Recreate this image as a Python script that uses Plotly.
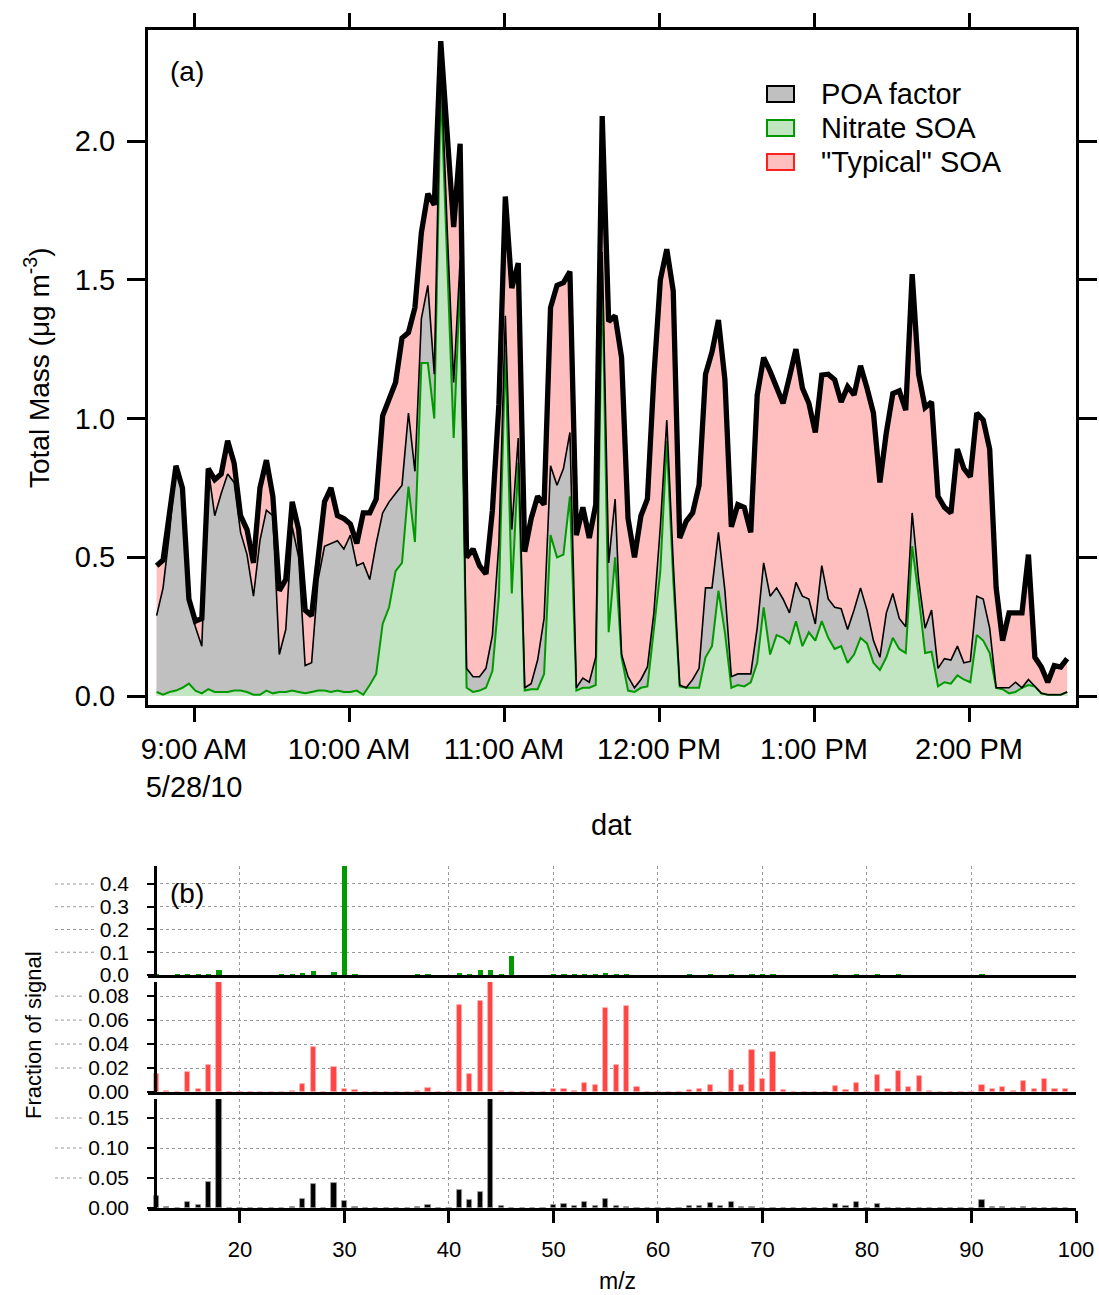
import plotly.graph_objects as go
import pandas as pd

W, H = 1099, 1295
FONT = "Liberation Sans, Arial, Helvetica, sans-serif"

# ---------------- Panel (a) data : time series (2.5-min steps) ----------------
t_start = "2010-05-28 08:45:30"
n_pts = 142
times = pd.date_range(t_start, periods=n_pts, freq="150s")

total_mass = [
    0.47, 0.49, 0.66, 0.83, 0.75, 0.35, 0.27, 0.28, 0.82, 0.78,
    0.80, 0.92, 0.84, 0.65, 0.60, 0.48, 0.75, 0.85, 0.72, 0.38,
    0.42, 0.70, 0.60, 0.31, 0.29, 0.50, 0.70, 0.75, 0.65, 0.64,
    0.62, 0.55, 0.66, 0.66, 0.71, 1.01, 1.07, 1.13, 1.29, 1.31,
    1.40, 1.67, 1.81, 1.77, 2.36, 2.00, 1.69, 1.99, 0.50, 0.53,
    0.47, 0.44, 0.67, 1.05, 1.80, 1.47, 1.56, 0.52, 0.64, 0.72,
    0.69, 1.40, 1.48, 1.49, 1.53, 0.58, 0.68, 0.57, 0.69, 2.09,
    1.35, 1.37, 1.22, 0.64, 0.50, 0.65, 0.71, 1.15, 1.50, 1.61,
    1.46, 0.57, 0.63, 0.66, 0.76, 1.16, 1.24, 1.355, 1.14, 0.61,
    0.69, 0.68, 0.59, 1.085, 1.22, 1.17, 1.11, 1.055, 1.15, 1.25,
    1.11, 1.055, 0.95, 1.157, 1.16, 1.14, 1.06, 1.115, 1.085, 1.19,
    1.11, 1.02, 0.77, 0.95, 1.09, 1.10, 1.03, 1.52, 1.16, 1.04,
    1.06, 0.72, 0.68, 0.66, 0.89, 0.82, 0.79, 1.02, 0.995, 0.89,
    0.39, 0.20, 0.30, 0.30, 0.30, 0.51, 0.14, 0.105, 0.05, 0.11,
    0.105, 0.135,
]

# cumulative: Nitrate SOA + POA factor
nitrate_plus_poa = [
    0.29, 0.39, 0.59, 0.83, 0.75, 0.35, 0.25, 0.18, 0.82, 0.65,
    0.73, 0.80, 0.77, 0.59, 0.51, 0.36, 0.56, 0.67, 0.65, 0.15,
    0.24, 0.61, 0.50, 0.11, 0.12, 0.42, 0.54, 0.55, 0.56, 0.53,
    0.58, 0.47, 0.48, 0.42, 0.55, 0.66, 0.70, 0.73, 0.76, 1.02,
    0.81, 1.36, 1.48, 1.16, 2.30, 1.68, 1.13, 1.57, 0.10, 0.07,
    0.07, 0.10, 0.22, 0.55, 1.37, 0.60, 0.93, 0.03, 0.045, 0.13,
    0.28, 0.83, 0.76, 0.82, 0.95, 0.03, 0.065, 0.05, 0.14, 1.60,
    0.48, 0.71, 0.15, 0.07, 0.03, 0.06, 0.105, 0.30, 0.61, 0.995,
    0.48, 0.04, 0.03, 0.06, 0.10, 0.39, 0.39, 0.59, 0.38, 0.07,
    0.08, 0.08, 0.08, 0.245, 0.48, 0.36, 0.39, 0.35, 0.30, 0.41,
    0.36, 0.35, 0.26, 0.47, 0.35, 0.32, 0.315, 0.24, 0.31, 0.39,
    0.31, 0.20, 0.14, 0.30, 0.37, 0.28, 0.25, 0.66, 0.42, 0.245,
    0.31, 0.10, 0.135, 0.13, 0.18, 0.12, 0.125, 0.36, 0.35, 0.245,
    0.03, 0.03, 0.03, 0.05, 0.03, 0.06, 0.035, 0.01, 0.005, 0.005,
    0.005, 0.015,
]

nitrate_soa = [
    0.015, 0.005, 0.015, 0.02, 0.03, 0.045, 0.02, 0.01, 0.025, 0.015,
    0.015, 0.015, 0.02, 0.02, 0.015, 0.005, 0.005, 0.02, 0.01, 0.015,
    0.015, 0.02, 0.015, 0.01, 0.015, 0.02, 0.02, 0.015, 0.02, 0.015,
    0.015, 0.02, 0.005, 0.04, 0.08, 0.26, 0.32, 0.45, 0.48, 0.755,
    0.555, 1.20, 1.20, 1.00, 2.20, 1.55, 0.93, 1.50, 0.03, 0.015,
    0.02, 0.03, 0.09, 0.36, 1.25, 0.37, 0.84, 0.02, 0.025, 0.025,
    0.08, 0.58, 0.50, 0.51, 0.72, 0.02, 0.03, 0.03, 0.04, 1.53,
    0.23, 0.50, 0.14, 0.02, 0.015, 0.03, 0.035, 0.24, 0.45, 0.92,
    0.42, 0.035, 0.03, 0.03, 0.03, 0.14, 0.18, 0.38, 0.23, 0.03,
    0.04, 0.035, 0.05, 0.12, 0.32, 0.15, 0.22, 0.21, 0.19, 0.27,
    0.18, 0.23, 0.20, 0.27, 0.21, 0.17, 0.18, 0.12, 0.15, 0.21,
    0.19, 0.12, 0.094, 0.14, 0.21, 0.17, 0.155, 0.54, 0.36, 0.155,
    0.16, 0.035, 0.05, 0.045, 0.075, 0.06, 0.05, 0.22, 0.20, 0.155,
    0.03, 0.025, 0.01, 0.015, 0.03, 0.04, 0.035, 0.01, 0.005, 0.005,
    0.005, 0.015,
]

time_tickvals = ["2010-05-28 09:00", "2010-05-28 10:00", "2010-05-28 11:00",
                 "2010-05-28 12:00", "2010-05-28 13:00", "2010-05-28 14:00"]
time_ticktext = ["9:00 AM<br>5/28/10", "10:00 AM", "11:00 AM",
                 "12:00 PM", "1:00 PM", "2:00 PM"]
mass_ticks = [0.0, 0.5, 1.0, 1.5, 2.0]

# ---------------- Panel (b) data : mass spectra ----------------
mz = list(range(12, 100))
nitrate_ms = [
    0.004, 0.0, 0.001, 0.001, 0.001, 0.002, 0.022, 0.0, 0.0, 0.0,   # 12-21
    0.0, 0.0, 0.001, 0.001, 0.005, 0.018, 0.0, 0.012, 0.52, 0.002,  # 22-31
    0.0, 0.0, 0.0, 0.0, 0.0, 0.001, 0.001, 0.0, 0.0, 0.009,         # 32-41
    0.004, 0.02, 0.022, 0.001, 0.085, 0.0, 0.0, 0.0, 0.001, 0.001,  # 42-51
    0.001, 0.003, 0.002, 0.007, 0.002, 0.004, 0.0, 0.0, 0.0, 0.0,   # 52-61
    0.0, 0.001, 0.0, 0.002, 0.0, 0.004, 0.0, 0.003, 0.002, 0.002,   # 62-71
    0.0, 0.0, 0.0, 0.0, 0.0, 0.002, 0.0, 0.002, 0.0, 0.002,         # 72-81
    0.0, 0.001, 0.0, 0.0, 0.0, 0.0, 0.0, 0.0, 0.0, 0.003,           # 82-91
    0.0, 0.0, 0.0, 0.0, 0.0, 0.0, 0.0, 0.0,                         # 92-99
]
typical_ms = [
    0.0147, 0.0006, 0.0003, 0.0164, 0.0028, 0.0225, 0.095, 0.0003, 0.0003, 0.0,
    0.0, 0.0, 0.0004, 0.0005, 0.0067, 0.0372, 0.0, 0.0206, 0.0022, 0.0014,
    0.0003, 0.0, 0.0, 0.0, 0.0, 0.001, 0.0033, 0.0003, 0.0003, 0.0722,
    0.015, 0.0756, 0.095, 0.0006, 0.0003, 0.0003, 0.0003, 0.0003, 0.0022, 0.0028,
    0.001, 0.0078, 0.0056, 0.070, 0.0222, 0.0714, 0.0042, 0.0003, 0.0003, 0.0003,
    0.0003, 0.0014, 0.0022, 0.0058, 0.0003, 0.0186, 0.0056, 0.0347, 0.0106, 0.0333,
    0.0014, 0.0003, 0.0003, 0.0003, 0.0003, 0.0047, 0.002, 0.0078, 0.0003, 0.0144,
    0.0028, 0.0178, 0.0039, 0.0136, 0.0008, 0.0003, 0.0003, 0.0002, 0.0002, 0.0058,
    0.0025, 0.0042, 0.001, 0.0094, 0.0022, 0.0106, 0.0025, 0.0022,
]
poa_ms = [
    0.0206, 0.0022, 0.0, 0.0094, 0.0044, 0.0428, 0.19, 0.0, 0.0, 0.0,
    0.0, 0.0, 0.0, 0.0017, 0.0156, 0.0406, 0.0, 0.0417, 0.0122, 0.0022,
    0.0, 0.0, 0.0, 0.0, 0.0, 0.0017, 0.0044, 0.0005, 0.0, 0.030,
    0.0139, 0.026, 0.19, 0.0033, 0.0, 0.0, 0.0, 0.0, 0.0044, 0.0072,
    0.0028, 0.0094, 0.0033, 0.015, 0.0033, 0.001, 0.0, 0.0, 0.0, 0.0,
    0.0005, 0.0028, 0.0033, 0.0083, 0.0033, 0.0106, 0.0022, 0.0022, 0.0006, 0.0,
    0.0, 0.0, 0.0, 0.0, 0.0, 0.0072, 0.0033, 0.0094, 0.0, 0.0061,
    0.0005, 0.0003, 0.0, 0.0, 0.0, 0.0, 0.0, 0.0, 0.0, 0.0133,
    0.001, 0.0022, 0.0005, 0.0017, 0.0, 0.0, 0.0, 0.0,
]
ms_ticks_green = [0.0, 0.1, 0.2, 0.3, 0.4]
ms_ticks_red = [0.0, 0.02, 0.04, 0.06, 0.08]
ms_ticks_black = [0.0, 0.05, 0.10, 0.15]
ms_text_green = ["0.0", "0.1", "0.2", "0.3", "0.4"]
ms_text_red = ["0.00", "0.02", "0.04", "0.06", "0.08"]
ms_text_black = ["0.00", "0.05", "0.10", "0.15"]

# ---------------- styles ----------------
PINK = "#FFBFBF"
GRAY = "#C0C0C0"
LGREEN = "#C2E5C2"
GREEN = "#009A00"
RED_BAR = "#FF4444"
GRID = "#9A9A9A"
BIG = 29
SMALL = 21


def px(x):
    return x / W


def py(y):
    return 1 - y / H


fig = go.Figure()

# Panel (a)
fig.add_trace(go.Scatter(x=times, y=total_mass, mode="lines", fill="tozeroy",
                         fillcolor=PINK, line=dict(width=0, color=PINK),
                         xaxis="x", yaxis="y", showlegend=False, hoverinfo="skip"))
fig.add_trace(go.Scatter(x=times, y=nitrate_plus_poa, mode="lines", fill="tozeroy",
                         fillcolor=GRAY, line=dict(width=0, color=GRAY),
                         xaxis="x", yaxis="y", showlegend=False, hoverinfo="skip"))
fig.add_trace(go.Scatter(x=times, y=nitrate_soa, mode="lines", fill="tozeroy",
                         fillcolor=LGREEN, line=dict(width=2, color=GREEN),
                         xaxis="x", yaxis="y", showlegend=False))
fig.add_trace(go.Scatter(x=times, y=nitrate_plus_poa, mode="lines",
                         line=dict(width=1.6, color="black"),
                         xaxis="x", yaxis="y", showlegend=False))
fig.add_trace(go.Scatter(x=times, y=total_mass, mode="lines",
                         line=dict(width=5.3, color="black"),
                         xaxis="x", yaxis="y", showlegend=False))

# Panel (b) bars
fig.add_trace(go.Bar(x=mz, y=nitrate_ms, width=0.5, marker=dict(color=GREEN, line=dict(width=0)),
                     xaxis="x2", yaxis="y2", showlegend=False))
fig.add_trace(go.Bar(x=mz, y=typical_ms, width=0.5,
                     marker=dict(color=RED_BAR, line=dict(width=0.8, color="#FFB0B0")),
                     xaxis="x3", yaxis="y3", showlegend=False))
fig.add_trace(go.Bar(x=mz, y=poa_ms, width=0.5,
                     marker=dict(color="black", line=dict(width=0.8, color="#999999")),
                     xaxis="x4", yaxis="y4", showlegend=False))

xdom = [px(148), px(1076)]
ms_x_common = dict(domain=xdom, range=[11.2, 100], showgrid=True, gridcolor=GRID,
                   griddash="dot", gridwidth=1, tickvals=[20, 30, 40, 50, 60, 70, 80, 90, 100],
                   zeroline=False, showline=True, linecolor="black", linewidth=2.5)
ms_y_common = dict(anchor="free", position=px(155), showgrid=True, gridcolor=GRID,
                   griddash="dot", gridwidth=1, zeroline=False, showline=True,
                   linecolor="black", linewidth=2.5, ticks="outside", ticklen=7,
                   tickwidth=2, tickcolor="black", ticklabelstandoff=14,
                   tickfont=dict(family=FONT, size=SMALL, color="black"))

ms_panels = [  # (pixel top, pixel bottom, range max, tick values, tick texts)
    (866, 975, 0.479, ms_ticks_green, ms_text_green),
    (982, 1092, 0.0918, ms_ticks_red, ms_text_red),
    (1099, 1208, 0.1817, ms_ticks_black, ms_text_black),
]

fig.update_layout(
    autosize=True,
    margin=dict(l=0, r=0, t=0, b=0, autoexpand=False),
    paper_bgcolor="white", plot_bgcolor="white",
    font=dict(family=FONT, color="black"),
    bargap=0,
    xaxis=dict(domain=xdom, anchor="y", type="date",
               range=["2010-05-28 08:42:10", "2010-05-28 14:41:25"],
               tickvals=time_tickvals, ticktext=time_ticktext,
               ticks="outside", ticklen=14, tickwidth=3, tickcolor="black",
               showline=True, linewidth=3, linecolor="black", mirror="ticks",
               showgrid=False, zeroline=False, ticklabelstandoff=2,
               tickfont=dict(family=FONT, size=BIG, color="black")),
    yaxis=dict(domain=[py(705), py(30)], anchor="x", range=[-0.032, 2.40],
               tickvals=mass_ticks, ticktext=["0.0", "0.5", "1.0", "1.5", "2.0"],
               ticks="outside", ticklen=18, tickwidth=3, tickcolor="black",
               showline=True, linewidth=3, linecolor="black", mirror="ticks",
               showgrid=False, zeroline=False, ticklabelstandoff=6,
               tickfont=dict(family=FONT, size=BIG, color="black")),
    xaxis2=dict(anchor="y2", showticklabels=False, ticks="", **ms_x_common),
    yaxis2=dict(domain=[py(975), py(866)], range=[0, 0.479], tickvals=ms_ticks_green,
                ticktext=ms_text_green, **ms_y_common),
    xaxis3=dict(anchor="y3", showticklabels=False, ticks="", **ms_x_common),
    yaxis3=dict(domain=[py(1092), py(982)], range=[0, 0.0918], tickvals=ms_ticks_red,
                ticktext=ms_text_red, **ms_y_common),
    xaxis4=dict(anchor="y4", ticks="outside", ticklen=12, tickwidth=2.5, tickcolor="black",
                ticklabelstandoff=8,
                tickfont=dict(family=FONT, size=SMALL + 1, color="black"), **ms_x_common),
    yaxis4=dict(domain=[py(1208), py(1099)], range=[0, 0.1817], tickvals=ms_ticks_black,
                ticktext=ms_text_black, **ms_y_common),
)

ann = []


def add_text(x, y, text, size, anchor="center", angle=0):
    ann.append(dict(x=px(x), y=py(y), xref="paper", yref="paper", text=text,
                    showarrow=False, xanchor=anchor, yanchor="middle", textangle=angle,
                    font=dict(family=FONT, size=size, color="black")))


add_text(187, 72, "(a)", 28)
add_text(37, 368, "Total Mass (\u03bcg m<sup>-3</sup>)", 28, angle=-90)
add_text(611, 825, "dat", BIG)
add_text(819, 94, "POA factor", BIG, anchor="left")
add_text(819, 128, "Nitrate SOA", BIG, anchor="left")
add_text(819, 162, "\"Typical\" SOA", BIG, anchor="left")
add_text(187, 893, "(b)", 28)
add_text(33, 1035, "Fraction of signal", SMALL + 1, angle=-90)
add_text(617, 1281, "m/z", 23)
fig.update_layout(annotations=ann)

shapes = []
# legend swatches
for yc, fc, lc in [(94, GRAY, "black"), (128, LGREEN, GREEN), (162, PINK, "#FF2020")]:
    shapes.append(dict(type="rect", xref="paper", yref="paper",
                       x0=px(767), x1=px(794), y0=py(yc + 8), y1=py(yc - 8),
                       fillcolor=fc, line=dict(color=lc, width=2)))
# grid lines of panel (b) continuing into the left margin, up to the tick labels
for top, bot, vmax, tvals, ttext in ms_panels:
    for v, t in zip(tvals, ttext):
        if v == 0:
            continue
        ypix = bot - (bot - top) * v / vmax
        label_left = 130 - 0.556 * SMALL * (len(t) - 1) - 0.278 * SMALL
        shapes.append(dict(type="line", xref="paper", yref="paper", layer="below",
                           x0=px(55), x1=px(label_left - 4), y0=py(ypix), y1=py(ypix),
                           line=dict(color=GRID, width=1, dash="dot")))
fig.update_layout(shapes=shapes)

fig.write_html("out.html", default_width="100vw", default_height="100vh",
               config={"responsive": True})

# page exactly the window size (no body margin / scrollbars)
with open("out.html", "r", encoding="utf-8") as f:
    html = f.read()
html = html.replace("<head>", "<head><style>html,body{margin:0;padding:0;overflow:hidden;}</style>", 1)
with open("out.html", "w", encoding="utf-8") as f:
    f.write(html)
